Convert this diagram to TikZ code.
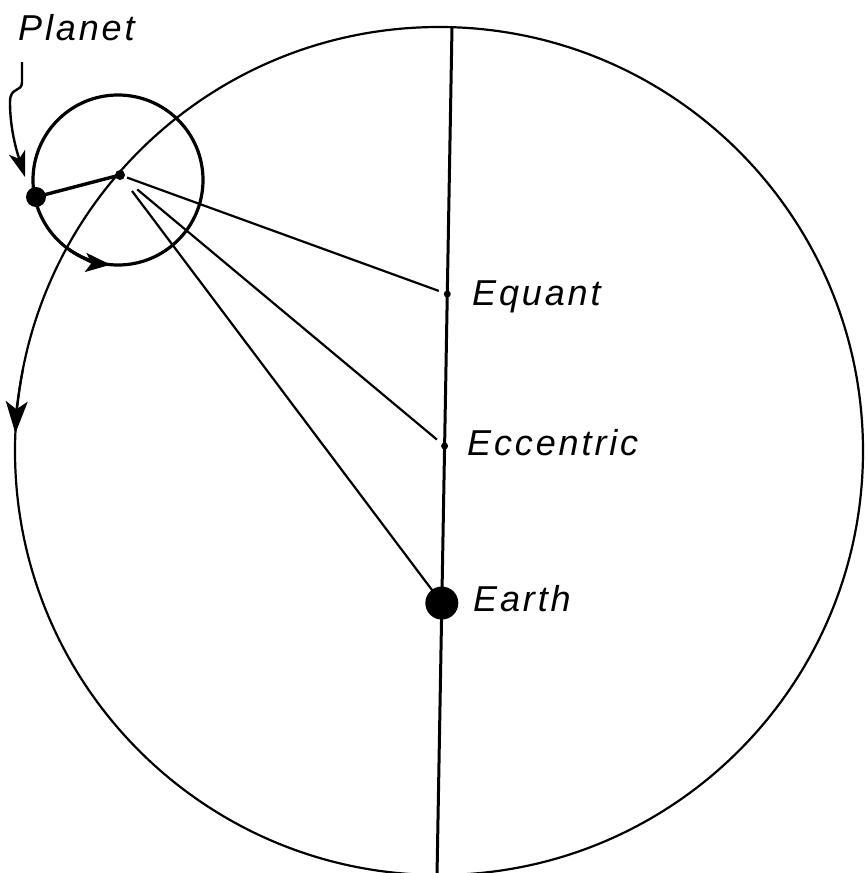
\documentclass[tikz,border=0pt]{standalone}
\usepackage{fontspec}
\setmainfont{Liberation Sans}
\usetikzlibrary{calc,arrows.meta}
\newfontfamily\hand[LetterSpace=8]{Liberation Sans}
\begin{document}
\begin{tikzpicture}[x=1pt,y=-1pt,
  lbl/.style={font=\hand\itshape\fontsize{36}{40}\selectfont, inner sep=0pt},
  dotnode/.style={circle, fill=black, inner sep=0pt},
  ray/.style={line width=2.2pt}]
\useasboundingbox (0,0) rectangle (865,873);
\clip (0,0) rectangle (865,873);
% key points
\coordinate (C) at (439,451);
\coordinate (Top) at (452,27);
\coordinate (Bot) at (437,876);
\coordinate (E) at (120,175);
\coordinate (EC) at (118,180);
\coordinate (Q) at ($(Top)!0.3145!(Bot)$);
\coordinate (X) at ($(Top)!0.4935!(Bot)$);
\coordinate (T) at ($(Top)!0.6785!(Bot)$);
% deferent
\draw[line width=2.2pt] (C) circle[radius=424];
% line of apsides
\draw[line width=3pt] (Top) -- (Bot);
% epicycle
\draw[line width=3.2pt] (EC) circle[radius=85];
% rays
\draw[ray] ($(E)!7.5pt!(Q)$) -- ($(Q)!9pt!(E)$);
\draw[ray] ($(E)!22.5pt!(X)$) -- ($(X)!10pt!(E)$);
\draw[ray] ($(E)!20pt!(T)$) -- (T);
% dots
\node[dotnode, minimum size=33pt] (earth) at (T) {};
\node[dotnode, minimum size=7pt] (eq) at (Q) {};
\node[dotnode, minimum size=7pt] (ecc) at (X) {};
\node[dotnode, minimum size=10pt] (epi) at (E) {};
\node[dotnode, minimum size=20pt] (planet) at (36,197) {};
\draw[line width=3.4pt] (planet.center) -- (epi.center);
% direction arrows
\draw[line width=3.2pt, -{Stealth[length=25pt,width=19pt,inset=6pt]}]
  (EC) ++(125:85) arc[start angle=125, end angle=95, radius=85];
\draw[line width=2.2pt, -{Stealth[length=32pt,width=22pt,inset=8pt]}]
  (C) ++(191:424) arc[start angle=191, end angle=182.4, radius=424];
% labels
\node[lbl, anchor=base west] (lplanet) at (18,40) {Planet};
\node[lbl, anchor=base west] (lequant) at (472,305) {Equant};
\node[lbl, anchor=base west] (lecc) at (467,455) {Eccentric};
\node[lbl, anchor=base west] (learth) at (473,611) {Earth};
% planet pointer
\coordinate (ps) at (22,62);
\draw[line width=2.4pt, -{Stealth[length=26pt,width=17pt,inset=7pt]}]
  (ps) -- (22,82) .. controls (22,93) and (10,86) .. (10,102)
  .. controls (10,130) and (17,152) .. (25,177);
\end{tikzpicture}
\end{document}
